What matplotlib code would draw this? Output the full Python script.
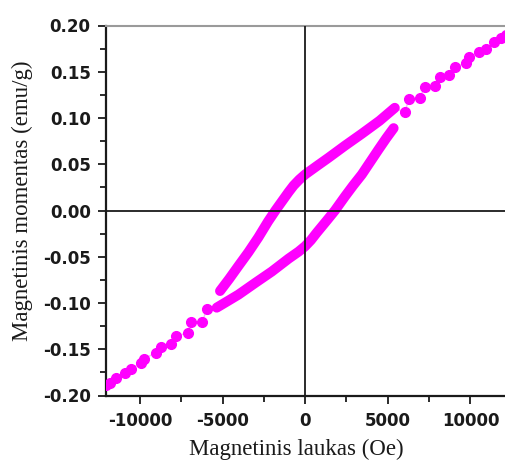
import matplotlib
matplotlib.use('Agg')
import matplotlib.pyplot as plt
from matplotlib.ticker import MultipleLocator, FixedLocator, FuncFormatter

plt.rcParams['axes.unicode_minus'] = False

# ---- data ----
# outer branch, positive field (sparse points)
outer_pos_field = [6020, 6290, 6930, 7230, 7830, 8130, 8730, 9040, 9700, 9940,
                   10540, 10940, 11450, 11850, 12150]
outer_pos_moment = [0.106, 0.121, 0.122, 0.133, 0.135, 0.144, 0.147, 0.155, 0.159,
                    0.166, 0.171, 0.175, 0.182, 0.187, 0.190]
# outer branch, negative field (sparse points)
outer_neg_field = [-5960, -6220, -6930, -7090, -7830, -8090, -8730, -9040, -9740,
                   -9940, -10540, -10900, -11450, -11790, -12050]
outer_neg_moment = [-0.106, -0.121, -0.121, -0.132, -0.136, -0.144, -0.148, -0.154,
                    -0.160, -0.165, -0.171, -0.176, -0.181, -0.186, -0.189]
# inner loop, descending field (upper branch)
inner_desc_field = [5420, 4500, 3430, 2400, 1410, 700, 0, -350, -700, -1000, -1300,
                    -1800, -2250, -2830, -3430, -4040, -4600, -5150]
inner_desc_moment = [0.111, 0.097, 0.083, 0.070, 0.057, 0.048, 0.039, 0.0335, 0.027,
                     0.020, 0.0125, 0.0, -0.012, -0.029, -0.045, -0.060, -0.074, -0.087]
# inner loop, ascending field (lower branch)
inner_asc_field = [-5350, -4600, -4040, -3000, -2020, -1000, -400, 0, 350, 700, 1300,
                   1800, 2420, 2900, 3430, 4440, 4900, 5350]
inner_asc_moment = [-0.105, -0.097, -0.091, -0.078, -0.066, -0.052, -0.0445, -0.0386,
                    -0.032, -0.024, -0.011, 0.0, 0.0155, 0.027, 0.039, 0.066, 0.078, 0.089]

x_ticks = [-10000, -5000, 0, 5000, 10000]
y_ticks = [-0.20, -0.15, -0.10, -0.05, 0.00, 0.05, 0.10, 0.15, 0.20]
x_label = 'Magnetinis laukas (Oe)'
y_label = 'Magnetinis momentas (emu/g)'

magenta = '#ff00ff'
faint = '#f6b8f6'

fig = plt.figure(figsize=(5.06, 4.62), dpi=100)
W, H = 506, 462
ax = fig.add_axes([106 / W, 1 - 395.5 / H, 400 / W, 370 / H])

# faint connecting lines through all points
ax.plot(outer_pos_field, outer_pos_moment, color=faint, lw=1.0, zorder=2)
ax.plot(outer_neg_field, outer_neg_moment, color=faint, lw=1.0, zorder=2)
ax.plot([outer_pos_field[0], inner_desc_field[0]], [outer_pos_moment[0], inner_desc_moment[0]],
        color=faint, lw=1.0, zorder=2)
ax.plot([outer_neg_field[0], inner_asc_field[0]], [outer_neg_moment[0], inner_asc_moment[0]],
        color=faint, lw=1.0, zorder=2)

# sparse outer dots
ax.plot(outer_pos_field, outer_pos_moment, ls='none', marker='o', ms=7,
        color=magenta, mec=magenta, zorder=3)
ax.plot(outer_neg_field, outer_neg_moment, ls='none', marker='o', ms=7,
        color=magenta, mec=magenta, zorder=3)

# dense inner loop (dots merge into a thick band)
for fx, my in [(inner_desc_field, inner_desc_moment), (inner_asc_field, inner_asc_moment)]:
    ax.plot(fx, my, color=magenta, lw=7.2, solid_capstyle='round',
            solid_joinstyle='round', zorder=3)

# crosshair at origin
ax.axhline(0, color='#1a1a1a', lw=1.3, zorder=4)
ax.axvline(0, color='#1a1a1a', lw=1.3, zorder=4)

ax.set_xlim(-12050, 12150)
ax.set_ylim(-0.20, 0.20)

ax.xaxis.set_major_locator(FixedLocator(x_ticks))
ax.xaxis.set_minor_locator(MultipleLocator(2500))
ax.yaxis.set_major_locator(FixedLocator(y_ticks))
ax.yaxis.set_minor_locator(MultipleLocator(0.025))
ax.xaxis.set_major_formatter(FuncFormatter(lambda v, p: f'{v:.0f}'))
ax.yaxis.set_major_formatter(FuncFormatter(lambda v, p: f'{v:.2f}'))

ax.tick_params(which='major', direction='out', length=6, width=1.3, color='#1a1a1a')
ax.tick_params(which='minor', direction='out', length=4, width=1.3, color='#1a1a1a')
ax.tick_params(axis='y', which='both', right=False)
ax.tick_params(axis='x', which='both', top=False)
ax.tick_params(axis='x', pad=6)
ax.tick_params(axis='y', pad=5)
for lab in ax.get_xticklabels() + ax.get_yticklabels():
    lab.set_fontfamily('DejaVu Sans')
    lab.set_fontweight('bold')
    lab.set_fontsize(12)
    lab.set_color('#1a1a1a')

ax.spines['left'].set_linewidth(1.6)
ax.spines['left'].set_color('#1a1a1a')
ax.spines['bottom'].set_linewidth(1.6)
ax.spines['bottom'].set_color('#1a1a1a')
ax.spines['top'].set_linewidth(1.5)
ax.spines['top'].set_color('#9a9a9a')
ax.spines['right'].set_visible(False)

fig.text(296 / W, 2 / H, x_label, ha='center', va='bottom',
         fontfamily='Liberation Serif', fontsize=16.5, color='#1a1a1a')
fig.text(22 / W, 1 - 201 / H, y_label, ha='center', va='center', rotation=90,
         fontfamily='Liberation Serif', fontsize=16.5, color='#1a1a1a')

fig.savefig('out.png', dpi=100)
